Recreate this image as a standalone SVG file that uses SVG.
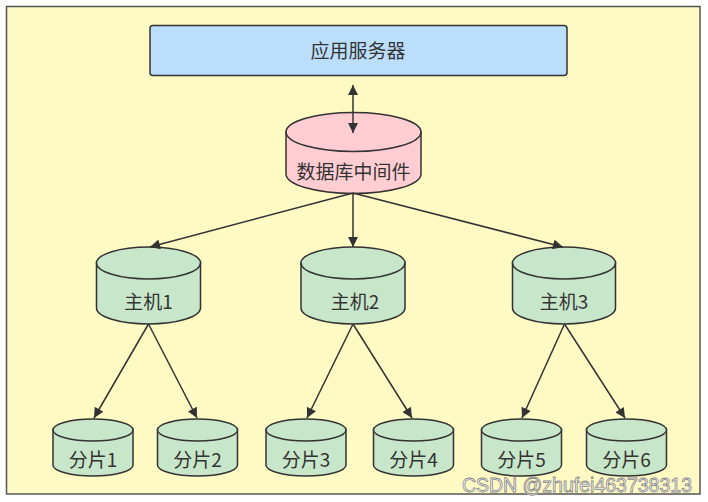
<svg xmlns="http://www.w3.org/2000/svg" width="708" height="502" viewBox="0 0 708 502">
<defs>
<style>
.shape{stroke:#333;stroke-width:1.5}
.mw{fill:#ffcdd2}
.gr{fill:#c8e6c9}
.lbl{font-family:"Noto Sans CJK SC","Noto Sans",sans-serif;font-size:19px;fill:#333;text-anchor:middle}
.con{stroke:#333;stroke-width:1.5;fill:none;marker-end:url(#ah)}
</style>
<marker id="ah" viewBox="0 0 10 10" refX="10" refY="5" markerWidth="11" markerHeight="10" markerUnits="userSpaceOnUse" orient="auto-start-reverse">
<path d="M0,0 L10,5 L0,10 Z" fill="#333"/>
</marker>
</defs>
<rect x="0" y="0" width="708" height="502" fill="#ffffff"/>
<rect x="6.5" y="6.5" width="693.5" height="487.5" fill="#fff9c4" stroke="#555" stroke-width="1.5"/>

<g id="app">
<rect class="shape" x="150" y="25.5" width="417" height="50" rx="3" fill="#bbdefb"/>
<text class="lbl" x="358" y="57.5">应用服务器</text>
</g>

<g id="middleware">
<path class="shape mw" d="M286,132 V174 A67.5,19.5 0 0 0 421,174 V132 Z"/>
<ellipse class="shape mw" cx="353.5" cy="132" rx="67.5" ry="19.5"/>
<text class="lbl" x="353.5" y="178.5">数据库中间件</text>
</g>

<g id="host1">
<path class="shape gr" d="M96.5,263 V308 A52,16 0 0 0 200.5,308 V263 Z"/>
<ellipse class="shape gr" cx="148.5" cy="263" rx="52" ry="16"/>
<text class="lbl" x="148.5" y="309">主机1</text>
</g>
<g id="host2">
<path class="shape gr" d="M301,263 V308 A52,16 0 0 0 405,308 V263 Z"/>
<ellipse class="shape gr" cx="353" cy="263" rx="52" ry="16"/>
<text class="lbl" x="355" y="309">主机2</text>
</g>
<g id="host3">
<path class="shape gr" d="M512.5,263 V308 A51.5,16 0 0 0 615.5,308 V263 Z"/>
<ellipse class="shape gr" cx="564" cy="263" rx="51.5" ry="16"/>
<text class="lbl" x="564" y="309">主机3</text>
</g>

<g id="shard1">
<path class="shape gr" d="M53,430 V465 A40,11 0 0 0 133,465 V430 Z"/>
<ellipse class="shape gr" cx="93" cy="430" rx="40" ry="11"/>
<text class="lbl" x="93" y="467">分片1</text>
</g>
<g id="shard2">
<path class="shape gr" d="M157.5,430 V465 A40,11 0 0 0 237.5,465 V430 Z"/>
<ellipse class="shape gr" cx="197.5" cy="430" rx="40" ry="11"/>
<text class="lbl" x="197.5" y="467">分片2</text>
</g>
<g id="shard3">
<path class="shape gr" d="M266,430 V465 A40,11 0 0 0 346,465 V430 Z"/>
<ellipse class="shape gr" cx="306" cy="430" rx="40" ry="11"/>
<text class="lbl" x="306" y="467">分片3</text>
</g>
<g id="shard4">
<path class="shape gr" d="M373.5,430 V465 A40,11 0 0 0 453.5,465 V430 Z"/>
<ellipse class="shape gr" cx="413.5" cy="430" rx="40" ry="11"/>
<text class="lbl" x="413.5" y="467">分片4</text>
</g>
<g id="shard5">
<path class="shape gr" d="M481.5,430 V465 A40,11 0 0 0 561.5,465 V430 Z"/>
<ellipse class="shape gr" cx="521.5" cy="430" rx="40" ry="11"/>
<text class="lbl" x="521.5" y="467">分片5</text>
</g>
<g id="shard6">
<path class="shape gr" d="M586.5,430 V465 A40,11 0 0 0 666.5,465 V430 Z"/>
<ellipse class="shape gr" cx="626.5" cy="430" rx="40" ry="11"/>
<text class="lbl" x="626.5" y="467">分片6</text>
</g>

<g id="connectors">
<line class="con" x1="353" y1="85" x2="353" y2="133" style="marker-start:url(#ah)"/>
<line class="con" x1="353" y1="193" x2="150" y2="247"/>
<line class="con" x1="353" y1="193" x2="353" y2="247"/>
<line class="con" x1="353" y1="193" x2="563" y2="247"/>
<line class="con" x1="148.5" y1="324" x2="94" y2="418"/>
<line class="con" x1="148.5" y1="324" x2="197" y2="418"/>
<line class="con" x1="353" y1="324" x2="307" y2="418"/>
<line class="con" x1="353" y1="324" x2="412" y2="418"/>
<line class="con" x1="564.5" y1="324" x2="522" y2="418"/>
<line class="con" x1="564.5" y1="324" x2="625" y2="418"/>
</g>

<text x="692" y="492" font-family="Liberation Sans, Arial, sans-serif" font-size="19.5" fill="#ffffff" stroke="#888" stroke-width="0.8" text-anchor="end">CSDN @zhufei463738313</text>
</svg>
